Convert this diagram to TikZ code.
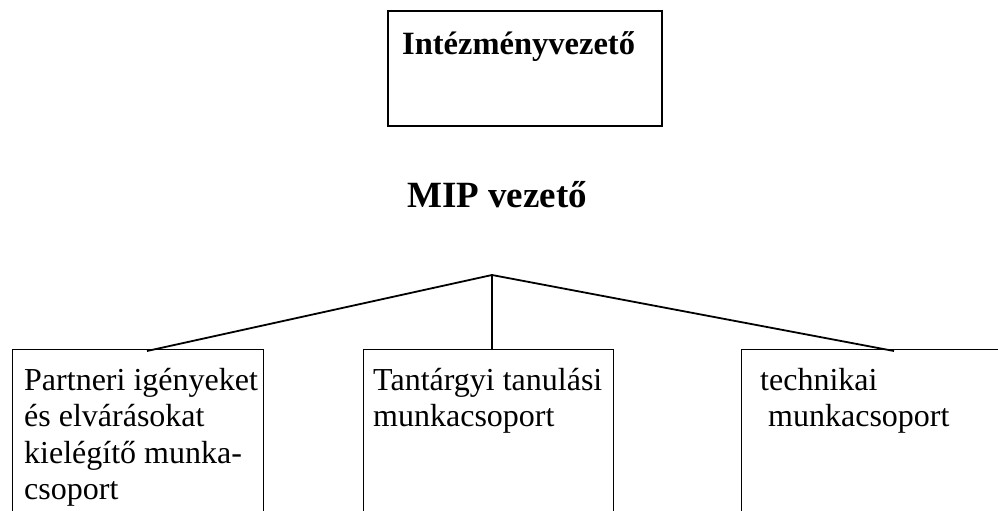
\documentclass[tikz,border=0pt]{standalone}
\usepackage{fontspec}
\setmainfont{Liberation Serif}
\begin{document}
\begin{tikzpicture}[x=1pt,y=-1pt,
  frame/.style={draw=black,line width=1.8pt,rectangle,inner sep=0pt,anchor=north west},
  openframe/.style={draw=black,line width=1.4pt,rectangle,inner sep=0pt,anchor=north west},
  conn/.style={draw=black,line width=1.8pt},
  lbl/.style={inner sep=0pt,anchor=base west,font=\fontsize{32}{36.5}\selectfont},
  blbl/.style={inner sep=0pt,anchor=base west,font=\fontsize{32.5}{37}\selectfont\bfseries}]
\useasboundingbox (0,0) rectangle (998,511);
\clip (0,0) rectangle (998,511);
% top box
\node[frame,minimum width=274pt,minimum height=115pt] (top) at (387,10) {};
\node[blbl] (toptext) at (402,55) {Intézményvezető};
% MIP
\node[inner sep=0pt,anchor=base,font=\fontsize{37}{40}\selectfont\bfseries] (mip) at (497,207) {MIP vezető};
% bottom boxes (cut off by page edges)
\node[openframe,minimum width=251pt,minimum height=250pt] (b1) at (12,349) {};
\node[openframe,minimum width=250pt,minimum height=250pt] (b2) at (363,349) {};
\node[openframe,minimum width=300pt,minimum height=250pt] (b3) at (741,349) {};
\node[lbl] (t1) at (24,390) {\parbox[t]{300pt}{\raggedright Partneri igényeket\\ és elvárásokat\\ kielégítő munka-\\ csoport}};
\node[lbl] (t2) at (373,390) {\parbox[t]{300pt}{\raggedright Tantárgyi tanulási\\ munkacsoport}};
\node[lbl] (t3) at (760,390) {\parbox[t]{300pt}{\raggedright technikai\\ \hspace*{8pt}munkacsoport}};
% connectors
\coordinate (apex) at (492,275);
\coordinate (e1) at (147,351);
\coordinate (e2) at (492,349);
\coordinate (e3) at (894,351);
\draw[conn] (apex) -- (e1);
\draw[conn] (apex) -- (e2);
\draw[conn] (apex) -- (e3);
\end{tikzpicture}
\end{document}
